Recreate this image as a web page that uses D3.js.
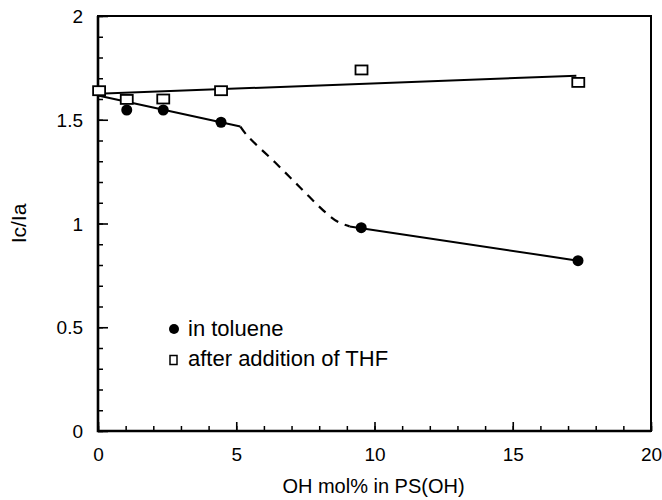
<!DOCTYPE html>
<html>
<head>
<meta charset="utf-8">
<script src="https://cdn.jsdelivr.net/npm/d3@7"></script>
<style>
  html, body { margin: 0; padding: 0; background: #fff; }
  svg { display: block; font-family: "Liberation Sans", Arial, Helvetica, sans-serif; }
</style>
</head>
<body>
<svg id="chart" width="662" height="500"></svg>
<script>
// Ic/Ia versus OH content of PS(OH)
const ohMolToluene = [1.04, 2.36, 4.45, 9.52, 17.36];
const ratioToluene = [1.547, 1.547, 1.488, 0.98, 0.821];

const ohMolTHF = [0.04, 1.04, 2.36, 4.45, 9.53, 17.37];
const ratioTHF = [1.64, 1.598, 1.60, 1.64, 1.74, 1.68];

// guide lines drawn through the points
const tolueneFitLow = [[0, 1.617], [5.15, 1.467]];
const tolueneTransition = [[5.15, 1.467], [5.4, 1.423], [6.4, 1.295], [7.3, 1.175], [8.24, 1.052], [8.7, 1.006], [9.1, 0.986]];
const tolueneFitHigh = [[9.1, 0.986], [17.36, 0.821]];
const thfFit = [[0, 1.625], [17.3, 1.712]];

const xTicks = [0, 5, 10, 15, 20];
const yTicks = [0, 0.5, 1, 1.5, 2];
const xMinor = d3.range(0, 20.01, 1);
const yMinor = d3.range(0, 2.001, 0.1);

const legendLabels = ["in toluene", "after addition of THF"];
const xTitle = "OH mol% in PS(OH)";
const yTitle = "Ic/Ia";

const svg = d3.select("#chart");
const plotLeft = 98, plotRight = 651, plotTop = 16, plotBottom = 431;

const x = d3.scaleLinear().domain([0, 20]).range([plotLeft, plotRight]);
const y = d3.scaleLinear().domain([0, 2]).range([plotBottom, plotTop]);

// frame: heavier left and bottom axes
svg.append("rect")
  .attr("x", plotLeft).attr("y", plotTop)
  .attr("width", plotRight - plotLeft).attr("height", plotBottom - plotTop)
  .attr("fill", "none").attr("stroke", "#000").attr("stroke-width", 2);
svg.append("path")
  .attr("d", `M${plotLeft},${plotTop}V${plotBottom}H${plotRight}`)
  .attr("fill", "none").attr("stroke", "#000").attr("stroke-width", 2.6);

// minor ticks (inward)
svg.append("g").attr("transform", `translate(0,${plotBottom})`)
  .call(d3.axisTop(x).tickValues(xMinor).tickSize(5).tickFormat(""))
  .call(g => g.select(".domain").remove())
  .selectAll("line").attr("stroke-width", 1.5);
svg.append("g").attr("transform", `translate(${plotLeft},0)`)
  .call(d3.axisRight(y).tickValues(yMinor).tickSize(5).tickFormat(""))
  .call(g => g.select(".domain").remove())
  .selectAll("line").attr("stroke-width", 1.5);

// major ticks (inward) with labels outside
const xAxis = svg.append("g").attr("transform", `translate(0,${plotBottom})`)
  .call(d3.axisTop(x).tickValues(xTicks).tickSize(9).tickFormat(d3.format("d")));
xAxis.select(".domain").remove();
xAxis.selectAll("line").attr("stroke-width", 1.6);
xAxis.selectAll("text")
  .attr("y", 30).attr("dy", 0)
  .attr("font-size", 19).attr("fill", "#000")
  .attr("font-family", "Liberation Sans, Arial, sans-serif");

const yAxis = svg.append("g").attr("transform", `translate(${plotLeft},0)`)
  .call(d3.axisRight(y).tickValues(yTicks).tickSize(10).tickFormat(d => d3.format("")(d)));
yAxis.select(".domain").remove();
yAxis.selectAll("line").attr("stroke-width", 1.6);
yAxis.selectAll("text")
  .attr("x", -15).attr("text-anchor", "end").attr("dy", "0.35em")
  .attr("font-size", 19).attr("fill", "#000")
  .attr("font-family", "Liberation Sans, Arial, sans-serif");

// axis titles
svg.append("text")
  .attr("x", (plotLeft + plotRight) / 2 - 1).attr("y", 493)
  .attr("text-anchor", "middle").attr("font-size", 20)
  .text(xTitle);
svg.append("text")
  .attr("transform", `translate(26,${(plotTop + plotBottom) / 2}) rotate(-90)`)
  .attr("text-anchor", "middle").attr("font-size", 21)
  .text(yTitle);

// guide lines
const line = d3.line().x(d => x(d[0])).y(d => y(d[1]));
const curve = d3.line().x(d => x(d[0])).y(d => y(d[1])).curve(d3.curveCatmullRom);

[tolueneFitLow, tolueneFitHigh, thfFit].forEach(seg => {
  svg.append("path").attr("d", line(seg))
    .attr("fill", "none").attr("stroke", "#000").attr("stroke-width", 2);
});
svg.append("path").attr("d", curve(tolueneTransition))
  .attr("fill", "none").attr("stroke", "#000").attr("stroke-width", 2.2)
  .attr("stroke-dasharray", "9,7");

// THF points (open squares)
const sqW = 12, sqH = 9;
svg.append("g").selectAll("rect")
  .data(ohMolTHF.map((v, i) => [v, ratioTHF[i]]))
  .join("rect")
  .attr("x", d => x(d[0]) - sqW / 2).attr("y", d => y(d[1]) - sqH / 2)
  .attr("width", sqW).attr("height", sqH)
  .attr("fill", "#fff").attr("stroke", "#000").attr("stroke-width", 1.8);

// toluene points (filled circles)
svg.append("g").selectAll("circle")
  .data(ohMolToluene.map((v, i) => [v, ratioToluene[i]]))
  .join("circle")
  .attr("cx", d => x(d[0])).attr("cy", d => y(d[1]))
  .attr("r", 5.5).attr("fill", "#000");

// legend
const legend = svg.append("g");
legend.append("circle").attr("cx", 174).attr("cy", 329).attr("r", 5).attr("fill", "#000");
legend.append("text").attr("x", 188).attr("y", 336).attr("font-size", 22).text(legendLabels[0]);
legend.append("rect").attr("x", 170).attr("y", 355.5).attr("width", 7).attr("height", 9)
  .attr("fill", "#fff").attr("stroke", "#000").attr("stroke-width", 1.5);
legend.append("text").attr("x", 188).attr("y", 366).attr("font-size", 22).text(legendLabels[1]);
</script>
</body>
</html>
